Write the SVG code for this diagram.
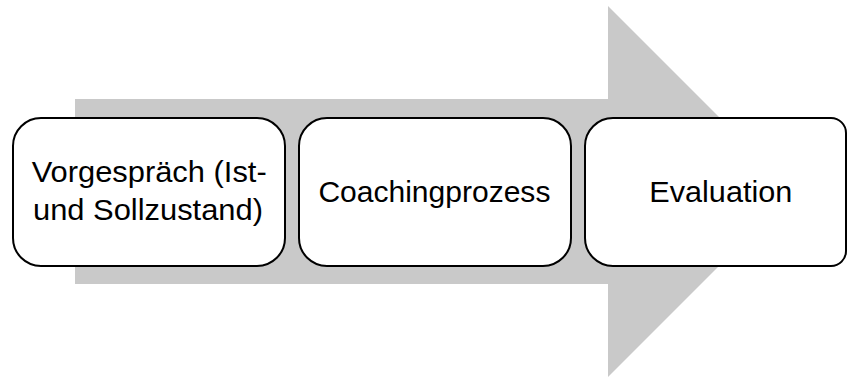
<svg xmlns="http://www.w3.org/2000/svg" width="848" height="379" viewBox="0 0 848 379">
  <style>
    .arrow { fill: #c9c9c9; }
    .box { fill: #ffffff; stroke: #000000; stroke-width: 2; }
    .label { font-family: "Liberation Sans", Arial, sans-serif; font-size: 30px; fill: #000000; text-anchor: middle; }
  </style>
  <rect width="848" height="379" fill="#ffffff"/>
  <g id="arrow">
    <polygon class="arrow" points="75,99 608,99 608,6 793.5,191.5 608,377 608,284 75,284"/>
  </g>
  <g id="connectors"></g>
  <g id="node1">
    <rect class="box" x="13" y="118" width="272" height="148" rx="28" ry="28"/>
    <text class="label" x="149.2" y="182.3" textLength="235" lengthAdjust="spacingAndGlyphs">Vorgespräch (Ist-</text>
    <text class="label" x="148" y="220" textLength="230" lengthAdjust="spacingAndGlyphs">und Sollzustand)</text>
  </g>
  <g id="node2">
    <rect class="box" x="299" y="118" width="272" height="148" rx="28" ry="28"/>
    <text class="label" x="434.4" y="202" textLength="232" lengthAdjust="spacingAndGlyphs">Coachingprozess</text>
  </g>
  <g id="node3">
    <path class="box" d="M613 118 H831 A15 15 0 0 1 846 133 V251 A15 15 0 0 1 831 266 H613 A28 28 0 0 1 585 238 V146 A28 28 0 0 1 613 118 Z"/>
    <text class="label" x="720.8" y="202" textLength="143" lengthAdjust="spacingAndGlyphs">Evaluation</text>
  </g>
</svg>
